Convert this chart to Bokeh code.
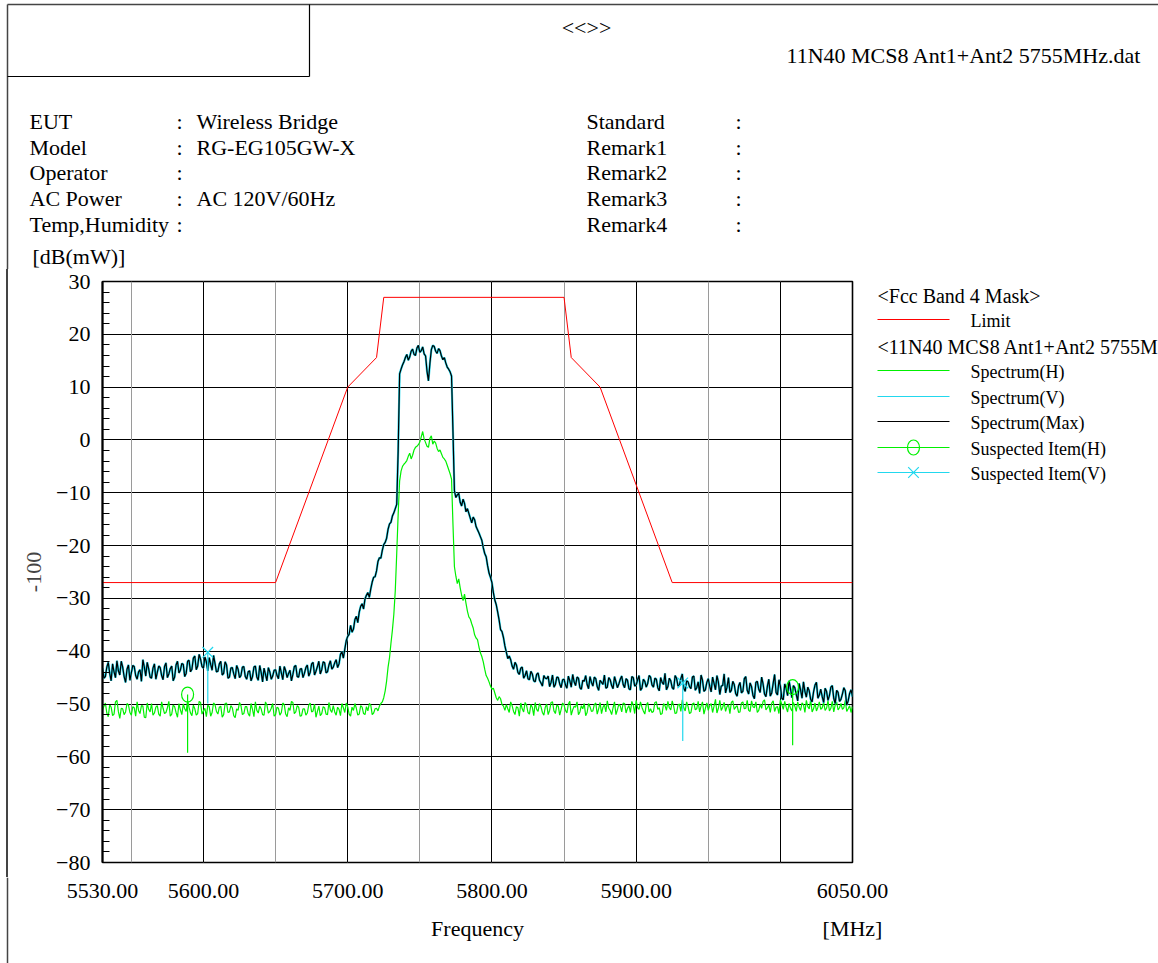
import numpy as np
from bokeh.plotting import figure
from bokeh.models import Range1d, FixedTicker, Grid, Div
from bokeh.layouts import column, row
from bokeh.core.properties import value
from bokeh.embed import file_html
from bokeh.resources import INLINE

# ---------------- data ----------------
# sweep samples: even-MHz samples and odd-MHz samples
freq_even = list(range(5530, 6051, 2))
freq_odd = list(range(5531, 6050, 2))

spectrum_v_even = [
    -43.2, -44.8, -42.1, -45.6, -43.9, -41.8, -44.5, -43.0, -45.9, -42.6,
    -44.1, -42.9, -45.3, -43.5, -41.6, -44.7, -43.3, -45.1, -42.4, -44.0,
    -43.1, -45.4, -42.2, -44.3, -42.8, -44.9, -41.9, -43.6, -42.5, -44.2,
    -41.7, -43.4, -40.9, -42.8, -41.5, -43.2, -42.0, -41.2, -43.6, -42.3,
    -43.8, -41.9, -44.2, -42.6, -44.9, -43.1, -45.2, -43.4, -44.6, -42.9,
    -45.3, -43.7, -44.8, -42.8, -45.5, -44.0, -43.2, -45.6, -43.9, -44.7,
    -43.5, -45.2, -44.1, -42.9, -45.0, -43.6, -44.4, -42.7, -44.9, -43.3,
    -44.2, -42.6, -44.0, -42.1, -43.8, -41.9, -43.5, -42.2, -43.9, -41.8,
    -43.0, -41.6, -42.4, -40.1, -39.6, -37.2, -35.1, -35.8, -33.4, -32.6,
    -31.0, -30.1, -28.9, -28.2, -26.0, -24.8, -22.3, -20.9, -19.4, -16.9,
    -15.6, -13.8, -12.2, 12.5, 14.2, 15.6, 15.1, 16.8, 16.2, 17.4,
    16.6, 17.6, 15.9, 11.2, 17.1, 17.7, 16.4, 16.9, 15.2, 14.6,
    13.4, 12.1, -9.6, -10.4, -11.8, -11.2, -13.6, -13.9, -15.7, -15.1,
    -17.0, -18.3, -20.4, -22.1, -25.2, -27.0, -30.3, -32.6, -35.9, -37.4,
    -40.2, -40.9, -42.8, -42.1, -44.0, -43.2, -45.1, -43.7, -45.4, -44.3,
    -45.8, -44.1, -46.0, -44.6, -45.2, -46.7, -44.5, -46.3, -45.0, -46.9,
    -45.3, -47.0, -45.6, -44.4, -46.5, -45.1, -47.2, -45.7, -46.3, -44.8,
    -46.6, -45.2, -47.4, -45.9, -44.5, -46.8, -45.4, -47.1, -45.8, -46.2,
    -44.7, -46.9, -45.5, -47.3, -45.0, -46.4, -44.6, -47.0, -45.7, -46.1,
    -44.9, -46.8, -45.3, -47.5, -45.9, -44.2, -46.7, -45.6, -47.2, -45.1,
    -46.4, -44.3, -47.6, -45.8, -47.1, -44.7, -46.9, -48.0, -45.5, -47.3,
    -45.2, -47.7, -46.1, -44.6, -48.2, -46.5, -47.9, -45.0, -47.4, -46.3,
    -48.5, -45.9, -47.6, -44.8, -48.1, -46.7, -49.0, -45.7, -47.8, -46.2,
    -48.6, -45.3, -47.9, -44.4, -48.3, -46.6, -49.2, -47.0, -45.6, -48.8,
    -46.9, -49.4, -47.3, -45.8, -48.7, -47.5, -49.6, -46.4, -48.9, -47.2,
    -49.8, -47.6, -48.4, -46.5, -49.9, -47.8, -49.1, -46.9, -50.2, -48.0,
    -48.6,
]

spectrum_v_odd = [
    -45.1, -43.0, -44.2, -42.4, -45.0, -43.7, -41.9, -44.8, -43.4, -45.5,
    -42.7, -44.6, -43.9, -45.7, -43.0, -42.1, -44.9, -43.2, -45.3, -42.8,
    -44.6, -42.9, -45.0, -43.3, -45.6, -42.6, -44.1, -42.3, -44.8, -41.9,
    -43.9, -41.3, -43.5, -40.6, -42.9, -41.1, -43.7, -42.5, -40.8, -43.9,
    -42.4, -44.5, -42.0, -45.1, -43.2, -44.3, -42.7, -45.0, -43.0, -44.8,
    -43.9, -45.6, -43.0, -44.9, -42.7, -45.8, -44.4, -43.1, -45.3, -43.6,
    -44.6, -42.8, -45.4, -43.7, -44.2, -45.6, -42.9, -44.8, -43.4, -45.0,
    -43.1, -44.7, -42.4, -44.5, -42.9, -44.3, -42.0, -44.1, -42.6, -43.4,
    -42.2, -43.1, -40.6, -41.3, -38.0, -36.8, -36.4, -34.0, -34.6, -31.5,
    -32.0, -29.4, -29.8, -26.9, -25.9, -23.0, -22.4, -19.8, -18.6, -15.9,
    -14.4, -13.0, -2.0, 13.4, 14.8, 16.2, 15.7, 17.2, 16.0, 17.9,
    16.9, 16.3, 13.0, 14.5, 17.9, 16.8, 17.3, 15.9, 15.6, 13.8,
    12.9, 1.5, -10.9, -10.1, -12.5, -12.0, -13.0, -14.8, -14.6, -16.4,
    -17.6, -19.0, -21.5, -23.8, -26.0, -28.9, -31.2, -34.1, -36.3, -39.0,
    -41.4, -41.6, -43.4, -42.6, -44.4, -43.0, -44.6, -45.2, -43.8, -45.6,
    -44.4, -45.5, -46.6, -45.1, -44.7, -45.9, -46.8, -44.9, -46.2, -45.4,
    -46.4, -44.7, -46.8, -45.8, -44.9, -46.9, -45.5, -44.6, -47.1, -45.9,
    -44.9, -46.7, -45.5, -46.3, -47.0, -45.0, -46.5, -44.8, -46.9, -45.3,
    -46.3, -45.2, -47.1, -44.8, -46.6, -45.4, -47.4, -45.3, -46.8, -44.6,
    -46.4, -45.1, -46.9, -45.0, -46.3, -47.3, -45.1, -46.9, -44.6, -46.6,
    -45.2, -47.0, -45.6, -46.7, -44.9, -47.4, -45.8, -44.5, -47.6, -45.9,
    -46.6, -44.9, -47.3, -45.8, -46.6, -44.3, -46.8, -47.8, -45.7, -48.0,
    -46.6, -47.9, -45.2, -47.4, -46.0, -48.4, -45.9, -47.2, -44.9, -48.1,
    -46.6, -48.5, -46.1, -47.8, -45.4, -48.9, -46.2, -48.4, -47.1, -46.5,
    -48.2, -46.1, -48.9, -47.6, -46.8, -49.1, -47.7, -45.9, -48.3, -48.6,
    -47.0, -49.3, -46.8, -48.9, -47.4, -49.5, -48.1, -47.5, -49.4, -47.3,
]

spectrum_h_even = [
    -51.2, -49.8, -52.4, -50.6, -51.9, -49.3, -52.7, -50.9, -51.5, -50.2,
    -52.1, -50.7, -49.6, -51.8, -50.4, -52.6, -51.0, -49.9, -51.7, -50.3,
    -52.3, -50.8, -51.6, -49.5, -51.9, -50.5, -52.5, -51.1, -50.0, -51.4,
    -50.6, -52.2, -50.9, -51.8, -49.7, -51.3, -52.4, -50.5, -51.6, -50.1,
    -51.9, -50.4, -52.0, -49.8, -51.5, -50.7, -52.6, -51.2, -50.3, -51.8,
    -50.5, -52.3, -51.0, -49.6, -51.7, -50.9, -52.1, -50.2, -51.4, -49.9,
    -52.0, -50.8, -51.6, -50.1, -52.4, -51.2, -49.7, -51.5, -50.6, -52.2,
    -50.9, -51.7, -49.8, -51.3, -52.5, -50.4, -51.8, -50.7, -52.0, -51.1,
    -50.3, -52.1, -51.0, -49.9, -51.6, -50.5, -52.3, -51.2, -50.8, -51.9,
    -50.6, -52.0, -51.3, -50.2, -51.7, -50.8, -50.4, -49.6, -47.5, -43.0,
    -38.5, -33.0, -21.5, -7.8, -5.0, -4.3, -3.1, -3.6, -1.9, -1.2,
    -0.4, 1.6, -0.5, -1.4, 0.8, -0.2, -1.6, -1.9, -3.3, -4.0,
    -5.6, -7.4, -24.0, -27.2, -28.0, -30.4, -30.9, -33.5, -34.8, -36.9,
    -37.8, -40.3, -42.0, -44.6, -45.8, -47.2, -47.9, -49.3, -49.0, -50.4,
    -50.1, -51.6, -50.3, -52.0, -50.7, -49.8, -51.5, -50.2, -51.9, -50.6,
    -49.7, -51.4, -50.5, -52.1, -50.0, -51.2, -49.6, -51.8, -50.4, -51.0,
    -50.2, -51.7, -49.5, -51.1, -50.6, -52.0, -50.3, -49.9, -51.6, -50.5,
    -51.3, -49.8, -50.9, -51.8, -50.1, -49.4, -51.2, -50.7, -52.0, -50.0,
    -51.5, -49.9, -50.8, -51.6, -50.2, -49.3, -51.0, -50.6, -51.9, -49.7,
    -50.9, -51.4, -49.6, -50.7, -51.8, -50.3, -49.5, -51.1, -50.4, -51.7,
    -50.0, -49.2, -51.3, -50.5, -51.6, -49.8, -50.9, -51.5, -49.6, -50.8,
    -51.2, -49.9, -50.4, -51.7, -49.3, -50.6, -51.4, -50.1, -49.7, -51.0,
    -50.3, -51.5, -49.6, -50.8, -51.2, -49.4, -50.7, -51.6, -50.0, -49.5,
    -51.1, -50.2, -49.8, -51.4, -50.5, -49.2, -51.0, -50.6, -49.9, -51.3,
    -50.4, -49.6, -51.2, -50.1, -49.3, -50.9, -51.5, -49.8, -50.6, -51.0,
    -49.7, -50.8, -51.3, -49.5, -50.2, -51.1, -49.9, -50.7, -51.4, -50.3,
    -50.5,
]

spectrum_h_odd = [
    -50.4, -51.7, -50.1, -52.2, -49.6, -51.4, -50.8, -52.0, -49.9, -51.6,
    -50.5, -52.3, -51.2, -50.3, -52.5, -49.8, -51.5, -52.1, -50.6, -51.9,
    -49.6, -51.8, -50.7, -52.3, -50.2, -51.6, -49.9, -52.0, -50.9, -49.4,
    -51.7, -50.2, -52.1, -49.5, -51.9, -50.8, -50.2, -52.3, -49.8, -51.4,
    -50.6, -52.5, -49.9, -51.6, -50.3, -52.2, -50.9, -49.7, -52.0, -50.5,
    -51.8, -49.9, -52.4, -51.2, -50.4, -52.0, -49.6, -51.7, -50.8, -52.3,
    -50.6, -52.1, -49.8, -51.9, -50.7, -49.5, -51.8, -50.3, -52.3, -50.9,
    -52.1, -50.2, -51.5, -50.0, -51.4, -52.2, -50.5, -51.9, -49.7, -51.6,
    -51.5, -50.6, -52.2, -50.7, -49.8, -51.9, -50.6, -49.9, -52.1, -50.3,
    -51.8, -50.5, -49.9, -52.0, -50.9, -51.3, -49.9, -48.8, -45.6, -41.2,
    -36.0, -28.5, -14.0, -5.9, -4.6, -3.9, -2.5, -2.9, -1.4, -0.9,
    0.6, 0.2, -1.2, 0.3, -0.8, -0.6, -2.2, -2.6, -3.6, -4.8,
    -6.4, -16.0, -25.8, -26.3, -29.4, -29.2, -32.4, -33.9, -35.6, -37.5,
    -39.2, -41.0, -43.4, -45.1, -46.6, -47.0, -48.8, -48.6, -50.1, -51.2,
    -50.9, -49.6, -51.4, -50.5, -52.3, -50.9, -49.7, -51.6, -50.1, -52.2,
    -51.0, -49.9, -51.6, -50.6, -52.0, -49.7, -51.3, -50.2, -52.1, -49.8,
    -51.2, -50.0, -52.1, -50.4, -49.6, -51.5, -50.9, -52.2, -49.9, -51.4,
    -50.1, -51.9, -49.7, -50.6, -51.5, -50.8, -52.0, -49.6, -51.1, -50.4,
    -49.8, -51.7, -50.3, -49.5, -51.8, -50.7, -49.6, -51.3, -50.2, -51.5,
    -51.6, -49.7, -51.0, -52.0, -49.9, -51.2, -50.7, -49.4, -51.8, -50.2,
    -51.4, -50.7, -49.6, -51.8, -50.0, -51.1, -49.5, -50.4, -51.9, -49.8,
    -50.3, -51.6, -49.1, -50.8, -51.2, -49.7, -50.5, -51.8, -49.4, -50.6,
    -51.6, -49.8, -50.9, -49.3, -51.4, -50.5, -49.6, -51.2, -50.8, -49.2,
    -50.7, -51.6, -49.4, -50.6, -51.8, -50.1, -49.5, -51.5, -50.8, -49.7,
    -51.4, -50.6, -49.8, -51.6, -50.5, -49.2, -50.9, -51.3, -49.6, -50.7,
    -51.2, -49.4, -50.8, -51.5, -49.6, -50.7, -51.0, -49.3, -50.9, -51.6,
]

limit_freq = [5530, 5650, 5700, 5720, 5725, 5850, 5855, 5875, 5925, 6050]
limit_level = [-27, -27, 10, 15.6, 27, 27, 15.6, 10, -27, -27]

susp_h_freq = [5589.0, 6008.5]
susp_h_level = [-48.2, -46.8]
susp_h_drop = [-59.2, -57.8]
susp_v_freq = [5603.0, 5932.3]
susp_v_level = [-40.2, -46.0]
susp_v_drop = [-49.9, -57.0]

x_tick_values = [5530, 5600, 5700, 5800, 5900, 6050]
x_tick_labels = ["5530.00", "5600.00", "5700.00", "5800.00", "5900.00", "6050.00"]
y_tick_values = [-80, -70, -60, -50, -40, -30, -20, -10, 0, 10, 20, 30]
y_tick_labels = ["\u221280", "\u221270", "\u221260", "\u221250", "\u221240", "\u221230",
                 "\u221220", "\u221210", "0", "10", "20", "30"]

info_left_keys = ["EUT", "Model", "Operator", "AC Power", "Temp,Humidity"]
info_left_vals = ["Wireless Bridge", "RG-EG105GW-X", "", "AC 120V/60Hz", ""]
info_right_keys = ["Standard", "Remark1", "Remark2", "Remark3", "Remark4"]
legend_headings = ["<Fcc Band 4 Mask>", "<11N40 MCS8 Ant1+Ant2 5755M"]
legend_labels = ["Limit", "Spectrum(H)", "Spectrum(V)", "Spectrum(Max)",
                 "Suspected Item(H)", "Suspected Item(V)"]
file_title = "11N40 MCS8 Ant1+Ant2 5755MHz.dat"

# merge the two sample sets into one sweep (ordered by frequency)
order = np.argsort(freq_even + freq_odd)
freq_mhz = np.array(freq_even + freq_odd)[order]
spectrum_v = np.array(spectrum_v_even + spectrum_v_odd)[order]
spectrum_h = np.array(spectrum_h_even + spectrum_h_odd)[order]
spectrum_max = np.maximum(spectrum_h, spectrum_v)

# ---------------- page geometry / styling ----------------
PAGE_W, PAGE_H = 1158, 963
TOP_H, MID_H = 269, 608
BOT_H = PAGE_H - TOP_H - MID_H
STRIP_W, MAIN_W = 12, 842
LEG_W = PAGE_W - STRIP_W - MAIN_W
FRAME_L, FRAME_R, FRAME_T, FRAME_B = 102, 852, 281, 862
MB_TOP = FRAME_T - TOP_H
MB_BOT = TOP_H + MID_H - FRAME_B

GREEN = "#00f000"
CYAN = "#22d8ee"
RED = "#ff0000"
BORDER = "#444444"
FONT = "Liberation Serif"


def blank_fig(w, h, x0, x1, y0, y1, mb_top=0, mb_bot=0):
    f = figure(width=w, height=h, x_range=Range1d(x0, x1), y_range=Range1d(y0, y1),
               output_backend="svg", toolbar_location=None,
               x_axis_location=None, y_axis_location=None,
               min_border_left=0, min_border_right=0,
               min_border_top=mb_top, min_border_bottom=mb_bot)
    f.outline_line_color = None
    f.grid.visible = False
    f.background_fill_color = "white"
    f.border_fill_color = "white"
    return f


def put_text(fig, xs, ys, texts, size=22, align="left", color="black", font=FONT, **kw):
    fig.text(x=xs, y=ys, text=texts, text_font=value(font), text_font_size=value(f"{size}px"),
             text_align=align, text_baseline="middle", text_color=color, **kw)


# ---------------- header (page pixel coordinates) ----------------
top = blank_fig(PAGE_W, TOP_H, 0, PAGE_W, TOP_H, 0)
top.segment(x0=[7, 7, 309, 7], y0=[4, 4, 4, 76], x1=[PAGE_W, 7, 309, 309], y1=[4, TOP_H, 76, 76],
            line_color=[BORDER, BORDER, "black", "black"], line_width=[1.5, 1.5, 1.2, 1.2])
put_text(top, [586], [27], ["<<>>"], align="center")
put_text(top, [1141], [55], [file_title], align="right")
row_y = [121, 147, 172, 198, 224]
put_text(top, [29] * 5, row_y, info_left_keys)
put_text(top, [176] * 5, row_y, [":"] * 5)
vals = [(v, y) for v, y in zip(info_left_vals, row_y) if v]
put_text(top, [196] * len(vals), [y for _, y in vals], [v for v, _ in vals])
put_text(top, [586] * 5, row_y, info_right_keys)
put_text(top, [735] * 5, row_y, [":"] * 5)
put_text(top, [32], [256], ["[dB(mW)]"])

# ---------------- left page border strip (plain element, no plot frame) ----------------
strip = Div(text="", width=STRIP_W, height=MID_H, margin=(0, 0, 0, 0),
            styles={"background": "linear-gradient(to right, #ffffff 0px, #ffffff 6.25px, "
                                  "#444444 6.25px, #444444 7.75px, #ffffff 7.75px)"})

# ---------------- main chart ----------------
p = figure(width=MAIN_W, height=MID_H,
           x_range=Range1d(5530, 6050), y_range=Range1d(-80, 30),
           output_backend="svg", toolbar_location=None, x_axis_location=None,
           min_border_left=FRAME_L - STRIP_W, min_border_right=STRIP_W + MAIN_W - FRAME_R,
           min_border_top=MB_TOP, min_border_bottom=MB_BOT)
p.background_fill_color = "white"
p.border_fill_color = "white"
p.outline_line_color = "black"
p.outline_line_width = 1.6

ya = p.yaxis[0]
ya.ticker = FixedTicker(ticks=y_tick_values, minor_ticks=list(range(-80, 31, 2)))
ya.major_label_overrides = dict(zip(y_tick_values, y_tick_labels))
ya.major_tick_in = 12
ya.major_tick_out = 0
ya.minor_tick_in = 7
ya.minor_tick_out = 0
ya.axis_line_width = 2
ya.major_label_standoff = 12
ya.major_label_text_font = FONT
ya.major_label_text_font_size = "22px"
ya.major_label_text_color = "black"
ya.axis_label = "-100"
ya.axis_label_text_font = FONT
ya.axis_label_text_font_size = "22px"
ya.axis_label_text_font_style = "normal"
ya.axis_label_standoff = 12

p.ygrid.ticker = FixedTicker(ticks=y_tick_values)
p.ygrid.grid_line_color = "black"
p.ygrid.grid_line_width = 1
p.add_layout(Grid(dimension=0, ticker=FixedTicker(ticks=[5550, 5650, 5750, 5850, 5950]),
                  grid_line_color="#9a9a9a", grid_line_width=1))
p.add_layout(Grid(dimension=0, ticker=FixedTicker(ticks=[5600, 5700, 5800, 5900, 6000]),
                  grid_line_color="black", grid_line_width=1))

p.line(freq_mhz, spectrum_h, line_color=GREEN, line_width=1.2)
p.line(freq_mhz, spectrum_v, line_color=CYAN, line_width=2.2)
p.line(freq_mhz, spectrum_max, line_color="black", line_width=1.2)
p.line(limit_freq, limit_level, line_color=RED, line_width=1)

p.segment(x0=susp_h_freq, y0=susp_h_level, x1=susp_h_freq, y1=susp_h_drop,
          line_color=GREEN, line_width=1.2)
p.segment(x0=susp_v_freq, y0=susp_v_level, x1=susp_v_freq, y1=susp_v_drop,
          line_color=CYAN, line_width=1.2)
p.ellipse(x=susp_h_freq, y=susp_h_level, width=12, height=15,
          width_units="screen", height_units="screen",
          fill_color=None, line_color=GREEN, line_width=1.2)
p.scatter(x=susp_v_freq, y=susp_v_level, marker="x", size=15,
          line_color=CYAN, line_width=1.2)

# ---------------- legend panel (frame aligned with the chart frame; page pixel coords) -----
leg = blank_fig(LEG_W, MID_H, STRIP_W + MAIN_W, PAGE_W, FRAME_B, FRAME_T,
                mb_top=MB_TOP, mb_bot=MB_BOT)
put_text(leg, [877, 877], [295, 346], legend_headings, size=20)
leg_y = [319, 370, 396, 421, 447, 472]
leg_c = [RED, GREEN, CYAN, "black", GREEN, CYAN]
leg.segment(x0=[877] * 6, y0=leg_y, x1=[949] * 6, y1=leg_y, line_color=leg_c, line_width=1.2)
put_text(leg, [970] * 6, [y + 1 for y in leg_y], legend_labels, size=18)
leg.ellipse(x=[913], y=[447], width=12, height=15, width_units="screen", height_units="screen",
            fill_color=None, line_color=GREEN, line_width=1.2)
leg.scatter(x=[913], y=[472], marker="x", size=15, line_color=CYAN, line_width=1.2)

# ---------------- bottom strip: frequency labels ----------------
mhz_per_px = (6050 - 5530) / (FRAME_R - FRAME_L)
bot = blank_fig(PAGE_W, BOT_H,
                5530 - FRAME_L * mhz_per_px, 6050 + (PAGE_W - FRAME_R) * mhz_per_px,
                PAGE_H, PAGE_H - BOT_H)
bot.extra_x_ranges = {"px": Range1d(0, PAGE_W)}
put_text(bot, x_tick_values, [890] * len(x_tick_values), x_tick_labels, align="center")
put_text(bot, [(5530 + 6050) / 2], [928], ["Frequency"], align="center")
put_text(bot, [6050], [928], ["[MHz]"], align="center")
bot.segment(x0=[7], y0=[PAGE_H - BOT_H], x1=[7], y1=[PAGE_H], line_color=BORDER,
            line_width=1.5, x_range_name="px")

layout = column(top, row(strip, p, leg), bot)
open("out.html", "w").write(file_html(layout, INLINE))
